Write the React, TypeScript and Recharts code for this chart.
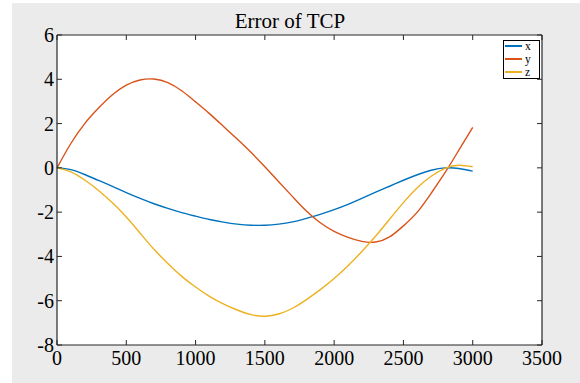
import React from 'react';
import { LineChart, Line, XAxis, YAxis, CartesianGrid, Legend } from 'recharts';

const timeSteps = [0, 100, 200, 300, 400, 500, 600, 700, 800, 900, 1000, 1100, 1200, 1300, 1400, 1500, 1600, 1700, 1800, 1900, 2000, 2100, 2200, 2300, 2400, 2500, 2600, 2700, 2800, 2900, 3000];
const xError = [0, -0.08, -0.3, -0.57, -0.84, -1.12, -1.38, -1.62, -1.83, -2.02, -2.18, -2.33, -2.45, -2.54, -2.59, -2.59, -2.54, -2.44, -2.28, -2.1, -1.89, -1.65, -1.38, -1.1, -0.83, -0.56, -0.31, -0.11, 0.0, -0.03, -0.15];
const yError = [0, 1.1, 2.0, 2.7, 3.3, 3.74, 3.97, 4.01, 3.85, 3.48, 2.98, 2.45, 1.88, 1.3, 0.7, 0.05, -0.63, -1.3, -1.95, -2.48, -2.87, -3.14, -3.32, -3.35, -3.12, -2.62, -2.0, -1.15, -0.22, 0.8, 1.83];
const zError = [0, -0.18, -0.55, -1.02, -1.58, -2.22, -2.95, -3.68, -4.32, -4.9, -5.38, -5.8, -6.14, -6.42, -6.63, -6.7, -6.6, -6.34, -5.95, -5.5, -5.0, -4.42, -3.78, -3.08, -2.32, -1.57, -0.9, -0.38, -0.02, 0.12, 0.05];

const xTicks = [0, 500, 1000, 1500, 2000, 2500, 3000, 3500];
const yTicks = [-8, -6, -4, -2, 0, 2, 4, 6];
const seriesNames = ['x', 'y', 'z'];
const seriesColors = ['#0072BD', '#D95319', '#EDB120'];
const title = 'Error of TCP';

const data = timeSteps.map((t, i) => ({ t, x: xError[i], y: yError[i], z: zError[i] }));

const FONT = "'Liberation Serif', 'Times New Roman', serif";
const AXIS = '#262626';
const TICK_LEN = 5;
const TINY = 0.001;

const BottomTick = (props: any) => {
  const { x, y, payload } = props;
  return (
    <g>
      <line x1={x} y1={y} x2={x} y2={y - TICK_LEN} stroke={AXIS} strokeWidth={1} />
      <text x={x} y={y + 19.5} textAnchor="middle" style={{ fontFamily: FONT, fontSize: 20 }} fill="#000">
        {payload.value}
      </text>
    </g>
  );
};

const TopTick = (props: any) => {
  const { x, y } = props;
  return <line x1={x} y1={y} x2={x} y2={y + TICK_LEN} stroke={AXIS} strokeWidth={1} />;
};

const LeftTick = (props: any) => {
  const { x, y, payload } = props;
  return (
    <g>
      <line x1={x} y1={y} x2={x + TICK_LEN} y2={y} stroke={AXIS} strokeWidth={1} />
      <text x={x - 3} y={y + 7} textAnchor="end" style={{ fontFamily: FONT, fontSize: 20 }} fill="#000">
        {payload.value}
      </text>
    </g>
  );
};

const RightTick = (props: any) => {
  const { x, y } = props;
  return <line x1={x} y1={y} x2={x - TICK_LEN} y2={y} stroke={AXIS} strokeWidth={1} />;
};

const renderLegend = () => (
  <div
    style={{
      position: 'relative',
      border: '1px solid #000',
      background: '#fff',
      width: 37,
      height: 39,
      boxSizing: 'border-box',
      fontFamily: FONT,
      fontSize: 11.5,
    }}
  >
    {seriesNames.map((n, i) => (
      <div
        key={n}
        style={{ position: 'absolute', left: 1, top: -1 + i * 12.7, height: 12.7, display: 'flex', alignItems: 'center' }}
      >
        <div style={{ width: 17, height: 2, background: seriesColors[i], marginRight: 3 }} />
        <span style={{ color: '#000', lineHeight: '12px' }}>{n}</span>
      </div>
    ))}
  </div>
);

export default function App() {
  const axisLine = { stroke: AXIS, strokeWidth: 1.2 };
  return (
    <div style={{ position: 'absolute', left: 0, top: 0, width: 580, height: 383, fontFamily: FONT }}>
      <div style={{ position: 'absolute', left: 12, top: 3, width: 568, height: 380, background: '#ebebeb' }} />
      <div style={{ position: 'absolute', left: 0, top: 0 }}>
        <LineChart width={580} height={383} data={data} margin={{ top: 34, right: 37, bottom: 0, left: 0 }} style={{ fontFamily: FONT }}>
          <CartesianGrid fill="#ffffff" horizontal={false} vertical={false} />
          <XAxis
            dataKey="t"
            type="number"
            domain={[0, 3500]}
            ticks={xTicks}
            interval={0}
            height={38}
            tickSize={TINY}
            tickMargin={TINY}
            tickLine={false}
            tick={BottomTick}
            axisLine={axisLine}
          />
          <XAxis
            xAxisId="top"
            orientation="top"
            dataKey="t"
            type="number"
            domain={[0, 3500]}
            allowDataOverflow
            ticks={xTicks}
            interval={0}
            height={1}
            tickSize={TINY}
            tickMargin={TINY}
            tickLine={false}
            tick={TopTick}
            axisLine={axisLine}
          />
          <YAxis
            type="number"
            domain={[-8, 6]}
            ticks={yTicks}
            interval={0}
            width={57}
            tickSize={TINY}
            tickMargin={TINY}
            tickLine={false}
            tick={LeftTick}
            axisLine={axisLine}
          />
          <YAxis
            yAxisId="right"
            orientation="right"
            type="number"
            domain={[-8, 6]}
            allowDataOverflow
            ticks={yTicks}
            interval={0}
            width={1}
            tickSize={TINY}
            tickMargin={TINY}
            tickLine={false}
            tick={RightTick}
            axisLine={axisLine}
          />
          <Legend
            layout="horizontal"
            verticalAlign="middle"
            align="center"
            content={renderLegend}
            wrapperStyle={{ left: 503, top: 40, width: 37, height: 39 }}
          />
          <Line
            xAxisId="top"
            yAxisId="right"
            dataKey="x"
            legendType="none"
            stroke="transparent"
            strokeWidth={0}
            dot={false}
            activeDot={false}
            isAnimationActive={false}
          />
          {seriesNames.map((n, i) => (
            <Line
              key={n}
              dataKey={n}
              name={n}
              type="natural"
              stroke={seriesColors[i]}
              strokeWidth={1.4}
              dot={false}
              isAnimationActive={false}
            />
          ))}
        </LineChart>
      </div>
      <svg width={580} height={383} style={{ position: 'absolute', left: 0, top: 0, pointerEvents: 'none' }}>
        <text x={290} y={28} textAnchor="middle" fontFamily={FONT} fontSize={21} fill="#000">
          {title}
        </text>
      </svg>
    </div>
  );
}
